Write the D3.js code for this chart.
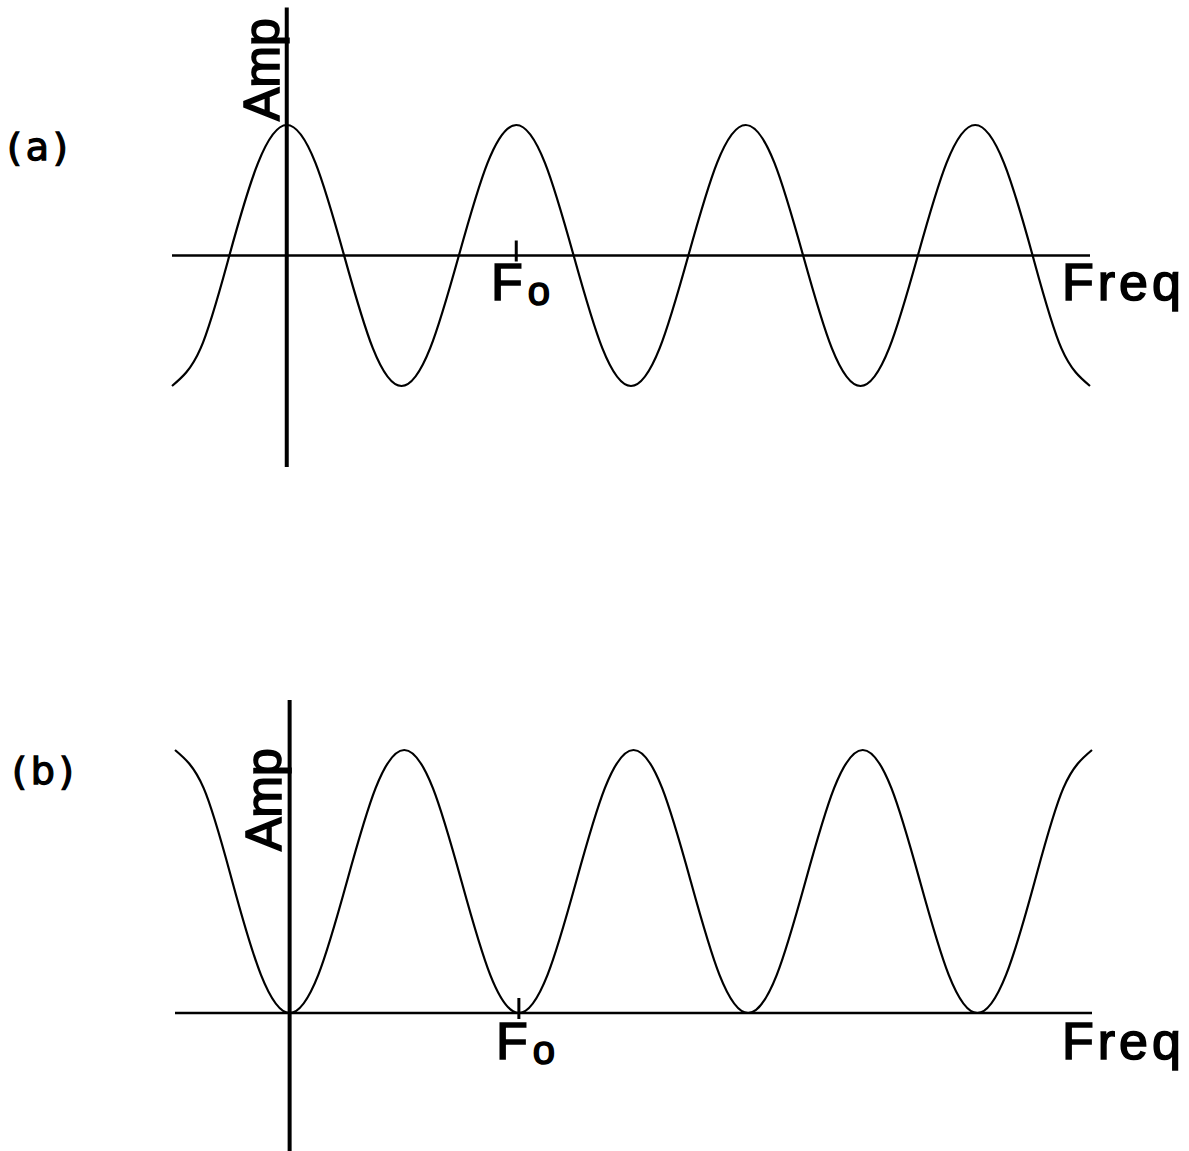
<!DOCTYPE html>
<html>
<head>
<meta charset="utf-8">
<script src="https://cdn.jsdelivr.net/npm/d3@7"></script>
<style>
  html, body { margin: 0; padding: 0; background: #fff; }
  svg { display: block; }
</style>
</head>
<body>
<div id="chart"></div>
<script>
// frequency in units of F0, sampled every 1/8 of a period
let freq = [-0.5, -0.375, -0.25, -0.125,
            0, 0.125, 0.25, 0.375, 0.5, 0.625, 0.75, 0.875,
            1, 1.125, 1.25, 1.375, 1.5, 1.625, 1.75, 1.875,
            2, 2.125, 2.25, 2.375, 2.5, 2.625, 2.75, 2.875,
            3, 3.125, 3.25, 3.375, 3.5];

// (a) amplitude, -1 .. 1
let ampA = [-1, -0.71, 0, 0.71,
            1, 0.71, 0, -0.71, -1, -0.71, 0, 0.71,
            1, 0.71, 0, -0.71, -1, -0.71, 0, 0.71,
            1, 0.71, 0, -0.71, -1, -0.71, 0, 0.71,
            1, 0.71, 0, -0.71, -1];

// (b) amplitude, 0 .. 2
let ampB = [2, 1.71, 1, 0.29,
            0, 0.29, 1, 1.71, 2, 1.71, 1, 0.29,
            0, 0.29, 1, 1.71, 2, 1.71, 1, 0.29,
            0, 0.29, 1, 1.71, 2, 1.71, 1, 0.29,
            0, 0.29, 1, 1.71, 2];

let panelLabels = ["(a)", "(b)"];
let xLabel = "Freq";
let yLabel = "Amp";
let tickLabel = "F";
let tickSub = "o";
let tickValue = 1;

let width = 1189, height = 1151;
let svg = d3.select("#chart").append("svg")
    .attr("width", width)
    .attr("height", height);

let panels = [
    { label: panelLabels[0], amp: ampA, ydom: [-1, 1],
      xr: [172, 1090], yr: [386, 125], vaxis: [-1.62, 1.9],
      lab: [7, 160], freqLab: [1062, 300], fLab: [491, 300], amp_: [279, 121] },
    { label: panelLabels[1], amp: ampB, ydom: [0, 2],
      xr: [175, 1092], yr: [1013, 750], vaxis: [-1.05, 2.38],
      lab: [12, 784], freqLab: [1062, 1059], fLab: [496, 1059], amp_: [281, 851] }
];

function ink(sel, w) {
    return sel.style("fill", "#000").style("stroke", "#000").style("stroke-width", w);
}

panels.forEach(function (p) {
    let x = d3.scaleLinear().domain([-0.5, 3.5]).range(p.xr);
    let y = d3.scaleLinear().domain(p.ydom).range(p.yr);
    let y0 = y(0);
    let g = svg.append("g");

    // horizontal axis
    g.append("line")
        .attr("x1", x(-0.5)).attr("x2", x(3.5))
        .attr("y1", y0).attr("y2", y0)
        .style("stroke", "#000").style("stroke-width", 2.6);

    // vertical axis
    g.append("line")
        .attr("x1", x(0)).attr("x2", x(0))
        .attr("y1", y(p.vaxis[0])).attr("y2", y(p.vaxis[1]))
        .style("stroke", "#000").style("stroke-width", 4);

    // F0 tick
    g.append("line")
        .attr("x1", x(tickValue)).attr("x2", x(tickValue))
        .attr("y1", y0 - 15).attr("y2", y0 + 6)
        .style("stroke", "#000").style("stroke-width", 3);

    // curve
    let pts = freq.map((f, i) => [f, p.amp[i]]);
    g.append("path")
        .datum(pts)
        .attr("d", d3.line()
            .x(d => x(d[0]))
            .y(d => y(d[1]))
            .curve(d3.curveNatural))
        .style("fill", "none")
        .style("stroke", "#000")
        .style("stroke-width", 2.2);

    // texts
    ink(g.append("text")
        .attr("x", p.lab[0]).attr("y", p.lab[1])
        .text(p.label)
        .attr("font-family", "DejaVu Sans")
        .attr("font-size", "38px")
        .attr("letter-spacing", "4px"), 1.3);

    ink(g.append("text")
        .attr("x", p.freqLab[0]).attr("y", p.freqLab[1])
        .text(xLabel)
        .attr("font-family", "Liberation Sans")
        .attr("font-size", "52px")
        .attr("letter-spacing", "4px"), 1.6);

    let ft = ink(g.append("text")
        .attr("x", p.fLab[0]).attr("y", p.fLab[1])
        .attr("font-family", "Liberation Sans")
        .attr("font-size", "52px"), 1.6);
    ft.append("tspan").text(tickLabel);
    ft.append("tspan").attr("dx", 5).attr("dy", 5).attr("font-size", "40px").text(tickSub);

    ink(g.append("text")
        .attr("transform", "translate(" + p.amp_[0] + "," + p.amp_[1] + ") rotate(-90)")
        .text(yLabel)
        .attr("font-family", "Liberation Sans")
        .attr("font-size", "50px"), 1.6);
});
</script>
</body>
</html>
